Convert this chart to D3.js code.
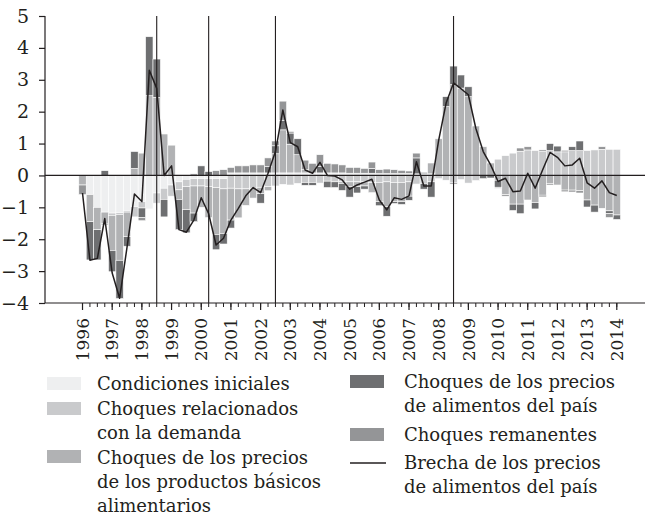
<!DOCTYPE html>
<html><head><meta charset="utf-8">
<script src="https://cdn.jsdelivr.net/npm/d3@7"></script>
<style>
html,body{margin:0;padding:0;background:#fff;}
svg{display:block;}
text{font-family:"DejaVu Serif",serif;fill:#231f20;}
</style></head>
<body>
<svg id="c" width="649" height="517"></svg>
<script>
// Quarters 1996Q1 .. 2014Q1
const quarters = [];
for (let y = 1996; y <= 2014; y++) for (let q = 1; q <= 4; q++) { if (y === 2014 && q > 1) break; quarters.push(y + "Q" + q); }
const yearLabels = ["1996","1997","1998","1999","2000","2001","2002","2003","2004","2005","2006","2007","2008","2009","2010","2011","2012","2013","2014"];
const yTicks = [-4,-3,-2,-1,0,1,2,3,4,5];
const markerQuarters = ["1998Q3","2000Q2","2002Q3","2008Q3"];

const seriesNames = ["Condiciones iniciales","Choques relacionados con la demanda","Choques de los precios de los productos básicos alimentarios","Choques de los precios de alimentos del país","Choques remanentes"];
const lineName = "Brecha de los precios de alimentos del país";

const initCond = [0,-0.6,-1.0,-1.15,-1.18,-1.17,-1.1,-0.98,-0.82,-1.05,-0.55,-0.4,-0.3,-0.2,-0.12,-0.1,-0.1,-0.1,-0.1,-0.1,
 0.08,0.08,0.08,0.08,0.08,0.08,0.08,0.08,0.08,0.08,0.08,0.08,0.08,0.08,0.08,0.08,0.07,0.07,0.07,0.07,
 0.06,0.06,0.06,0.06,0.06,0.05,0.05,0.05,0,0,0,0,0,0,0,0,0,0,0,0,
 0,0,0,0,0,0,0,0,0,0,0,0,0];
const demand = [0,0,0,0,-0.07,-0.05,-0.05,-0.32,-0.2,0,-0.32,-0.35,-0.35,-0.25,-0.23,-0.23,-0.23,-0.25,-0.28,-0.32,
 -0.4,-0.42,-0.42,-0.4,-0.37,-0.35,-0.33,-0.28,-0.3,-0.25,-0.22,-0.22,-0.24,-0.18,-0.2,-0.2,-0.2,-0.2,-0.2,-0.22,
 -0.22,-0.2,-0.22,-0.22,-0.2,-0.27,-0.25,-0.2,-0.1,-0.15,-0.22,-0.13,-0.24,-0.16,0,0,0.51,0.62,0.7,0.76,
 0.8,0.78,0.75,0.78,0.74,0.74,0.78,0.78,0.78,0.8,0.82,0.82,0.82];
const commodity = [-0.3,-0.85,-0.7,-0.35,-1.1,-1.44,-0.77,0.22,0.7,2.5,2.45,1.3,0.95,-0.3,-0.72,-0.85,-0.67,-0.97,-1.47,-1.4,
 -1.0,-0.91,-0.52,-0.31,-0.2,-0.13,0.6,1.35,0.9,0.57,0.1,0,0,0,0,-0.05,-0.15,-0.15,-0.13,-0.32,
 -0.6,-0.78,-0.6,-0.6,-0.45,0,0,0.34,1.15,2.16,2.85,2.74,2.47,1.55,0.9,0.39,-0.15,-0.6,-0.9,-0.9,
 -0.77,-0.85,-0.62,-0.25,-0.3,-0.46,-0.46,-0.48,-0.77,-0.93,-1.03,-1.11,-1.24];
const domestic = [0,-1.2,-0.95,0.15,-0.67,-1.2,-0.3,0.53,-0.3,1.85,1.2,-0.55,0,-0.95,-0.73,-0.27,0.3,0.12,-0.48,-0.33,
 -0.25,0,0,0,-0.3,0.2,0.25,0.3,0.35,0.5,-0.09,-0.09,0.2,-0.2,-0.18,-0.22,-0.33,-0.2,-0.1,0.15,
 -0.13,-0.3,-0.06,-0.09,-0.13,0.5,-0.18,-0.48,0,0.31,0.58,0.41,0.31,0,-0.1,-0.08,-0.22,0,-0.2,-0.3,
 0,-0.2,-0.05,0.22,0.18,-0.05,0.12,0.3,-0.22,-0.22,0,-0.09,-0.14];
const remaining = [-0.3,0,0,-0.05,0,0,0,0,-0.1,0,0,0,0,0,0,0.05,0,0,0.15,0.18,
 0.17,0.22,0.22,0.25,0.25,0.27,0.15,0.6,0.05,0,0.3,0.3,0.37,0.3,0.28,0.25,0.18,0.18,0.15,0.2,
 0.12,0.14,0.12,0.1,0.08,0.15,0.05,0,0,0,-0.05,0,0,0,0,0,-0.03,-0.05,0,0.1,
 0.1,0,0.05,-0.05,0,0.05,-0.06,-0.07,0,0,0.08,-0.12,0];
const gap = [-0.55,-2.66,-2.6,-1.35,-3.06,-3.85,-2.25,-0.58,-0.82,3.3,2.73,0.0,0.3,-1.7,-1.78,-1.4,-0.7,-1.2,-2.18,-1.97,
 -1.4,-1.03,-0.64,-0.38,-0.54,0.07,0.75,2.05,1.03,0.9,0.17,0.07,0.41,0.0,-0.02,-0.14,-0.43,-0.3,-0.21,-0.12,
 -0.77,-1.08,-0.7,-0.75,-0.64,0.43,-0.33,-0.33,1.11,2.27,2.9,2.72,2.53,1.48,0.75,0.33,-0.19,-0.09,-0.51,-0.49,
 0.07,-0.4,0.17,0.72,0.57,0.3,0.33,0.54,-0.23,-0.4,-0.17,-0.54,-0.63];

const colors = ["#eeeff0","#c9cacc","#b1b2b4","#6e6f71","#949597"];
const keys = ["init","demand","commodity","domestic","remaining"];
const table = quarters.map((q,i)=>({q, init:initCond[i], demand:demand[i], commodity:commodity[i], domestic:domestic[i], remaining:remaining[i]}));

const svg = d3.select("#c");
const x = d3.scaleBand().domain(quarters).range([78.8, 620.5]).padding(0);
const y = d3.scaleLinear().domain([-4,5]).range([303,16]);
const cx = q => x(q) + x.bandwidth()/2;

const stack = d3.stack().keys(keys).offset(d3.stackOffsetDiverging);
const layers = stack(table);

const gBars = svg.append("g");
layers.forEach((layer, k) => {
  gBars.selectAll(null).data(layer).enter().append("rect")
    .attr("x", d => x(d.data.q))
    .attr("width", x.bandwidth())
    .attr("y", d => y(Math.max(d[0], d[1])))
    .attr("height", d => Math.abs(y(d[0]) - y(d[1])))
    .attr("fill", colors[k])
    .attr("stroke", "#fff").attr("stroke-width", 0.6);
});

// zero line
svg.append("line").attr("x1",45).attr("x2",645).attr("y1",y(0)).attr("y2",y(0))
  .attr("stroke","#231f20").attr("stroke-width",1.3);

// marker vertical lines
svg.selectAll(null).data(markerQuarters).enter().append("line")
  .attr("x1", d=>cx(d)).attr("x2", d=>cx(d)).attr("y1", y(5)).attr("y2", y(-4))
  .attr("stroke","#231f20").attr("stroke-width",1.1);

// gap line
const line = d3.line().x((d,i)=>cx(quarters[i])).y(d=>y(d));
svg.append("path").datum(gap).attr("d", line).attr("fill","none")
  .attr("stroke","#231f20").attr("stroke-width",1.5).attr("stroke-linejoin","round");

// y axis
const yAx = svg.append("g").attr("transform","translate(45,0)")
  .call(d3.axisLeft(y).tickValues(yTicks).tickSize(6).tickPadding(10).tickFormat(d => d < 0 ? "\u2212" + Math.abs(d) : d));
yAx.select(".domain").attr("stroke","#231f20").attr("stroke-width",1.2).attr("d","M0,16V303");
yAx.selectAll(".tick line").attr("stroke","#231f20").attr("stroke-width",1.2);
yAx.selectAll("text").attr("font-size",19).attr("font-family","DejaVu Serif, serif").attr("fill","#231f20");

// x axis baseline
svg.append("line").attr("x1",45).attr("x2",645).attr("y1",303).attr("y2",303)
  .attr("stroke","#231f20").attr("stroke-width",1.2);
// minor ticks
const xMinor = svg.append("g").attr("transform","translate(0,303)")
  .call(d3.axisBottom(x).tickValues(quarters).tickSize(4).tickFormat(""));
xMinor.select(".domain").remove();
xMinor.selectAll(".tick line").attr("stroke","#231f20").attr("stroke-width",1);
// major ticks + labels
const majorQ = yearLabels.map(yy => yy + "Q1");
const xMajor = svg.append("g").attr("transform","translate(0,303)")
  .call(d3.axisBottom(x).tickValues(majorQ).tickSize(7).tickFormat(d => d.slice(0,4)));
xMajor.select(".domain").remove();
xMajor.selectAll(".tick line").attr("stroke","#231f20").attr("stroke-width",1.2);
xMajor.selectAll("text")
  .attr("font-size",17).attr("font-family","DejaVu Serif, serif").attr("fill","#231f20")
  .attr("text-anchor","end").attr("transform","translate(0,15) rotate(-90)")
  .attr("x",0).attr("y",0).attr("dy","0.36em");

// legend
const legFont = 18;
const legend = [
  {type:"rect", color:colors[0], sx:47, sy:377, lines:["Condiciones iniciales"], tx:97, ty:390},
  {type:"rect", color:colors[1], sx:47, sy:402, lines:["Choques relacionados","con la demanda"], tx:97, ty:415},
  {type:"rect", color:colors[2], sx:47, sy:450, lines:["Choques de los precios","de los productos básicos","alimentarios"], tx:97, ty:464},
  {type:"rect", color:colors[3], sx:350, sy:375, lines:["Choques de los precios","de alimentos del país"], tx:404, ty:388},
  {type:"rect", color:colors[4], sx:350, sy:428, lines:["Choques remanentes"], tx:404, ty:441},
  {type:"line", color:"#231f20", sx:350, sy:463, lines:["Brecha de los precios","de alimentos del país"], tx:404, ty:469}
];
const lg = svg.append("g");
legend.forEach(it => {
  if (it.type === "rect") {
    lg.append("rect").attr("x",it.sx).attr("y",it.sy).attr("width",34).attr("height",13).attr("fill",it.color);
  } else {
    lg.append("line").attr("x1",it.sx).attr("x2",it.sx+36).attr("y1",it.sy).attr("y2",it.sy)
      .attr("stroke",it.color).attr("stroke-width",1.5);
  }
  const t = lg.append("text").attr("x",it.tx).attr("y",it.ty).attr("font-size",legFont);
  it.lines.forEach((ln,j)=>{
    t.append("tspan").attr("x",it.tx).attr("dy", j===0 ? 0 : 24).text(ln);
  });
});
</script>
</body></html>
